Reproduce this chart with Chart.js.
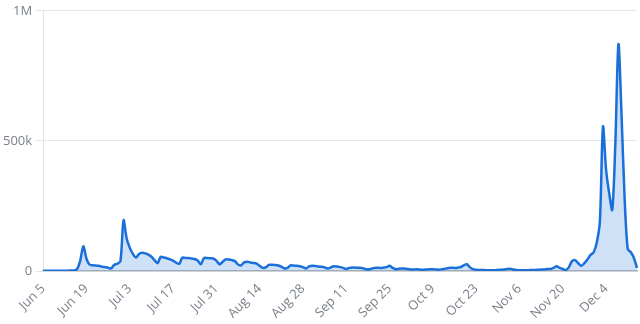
<!DOCTYPE html>
<html>
<head>
<meta charset="utf-8">
<script src="https://cdn.jsdelivr.net/npm/chart.js@4/dist/chart.umd.min.js"></script>
<style>
  html, body { margin: 0; padding: 0; background: #fff; }
  #wrap { width: 640px; height: 324px; }
</style>
</head>
<body>
<div id="wrap"><canvas id="area"></canvas></div>
<script>
// daily values, Jun 5 .. Dec 14
var startDate = [2023, 6, 5];
var values = [
  1500, 1500, 1500, 1500, 1500, 1500, 1500, 1500, 1500, 2000,
  2500, 8000, 40000, 95000, 48000, 25000, 22000, 21000, 20000, 17000,
  15000, 13000, 10000, 24000, 28000, 38000, 195000, 125000, 90000, 66000,
  52000, 65000, 70000, 68000, 63000, 55000, 42000, 30000, 54000, 52000,
  49000, 45000, 40000, 32000, 28000, 51000, 50000, 50000, 48000, 46000,
  40000, 26000, 50000, 50000, 49000, 48000, 40000, 26000, 35000, 45000,
  44000, 42000, 38000, 25000, 22000, 33000, 36000, 33000, 31000, 28000,
  20000, 12000, 14000, 24000, 24000, 23000, 21000, 17000, 10000, 12000,
  22000, 21000, 20000, 18000, 15000, 10000, 18000, 20000, 19000, 17000,
  16000, 14000, 10000, 14000, 18000, 17000, 15000, 12000, 8000, 12000,
  14000, 13000, 13000, 12000, 8000, 6000, 8000, 12000, 13000, 12000,
  13000, 15000, 20000, 12000, 7000, 9000, 10000, 9000, 8000, 6000,
  6000, 7000, 5000, 5000, 6000, 7000, 7000, 6000, 5000, 7000,
  9000, 12000, 13000, 12000, 13000, 15000, 22000, 26000, 14000, 7000,
  5000, 4000, 4000, 3000, 3000, 3000, 3000, 4000, 5000, 6000,
  8000, 9000, 6000, 4000, 3000, 3000, 3000, 3000, 4000, 4000,
  5000, 6000, 6000, 8000, 8000, 12000, 18000, 12000, 8000, 4000,
  15000, 38000, 42000, 30000, 20000, 30000, 45000, 62000, 72000, 110000,
  190000, 555000, 390000, 300000, 235000, 490000, 872000, 600000, 280000, 85000,
  72000, 50000, 12000
];
var yTicks = [0, 500000, 1000000];
var yTickLabels = ['0', '500k', '1M'];
var labelEvery = 14;

var months = ['Jan', 'Feb', 'Mar', 'Apr', 'May', 'Jun', 'Jul', 'Aug', 'Sep', 'Oct', 'Nov', 'Dec'];
var labels = [];
for (var i = 0; i < values.length; i++) {
  var d = new Date(startDate[0], startDate[1] - 1, startDate[2] + i);
  labels.push(months[d.getMonth()] + ' ' + d.getDate());
}

Chart.defaults.font.family = '"Open Sans", "Noto Sans", sans-serif';
Chart.defaults.font.size = 12;
Chart.defaults.color = '#7a808a';

var ctx = document.getElementById('area').getContext('2d');
var config = {
  type: 'line',
  data: {
    labels: labels,
    datasets: [{
      data: values,
      borderColor: '#1a6fd9',
      backgroundColor: 'rgba(26,111,217,0.21)',
      borderWidth: 2.5,
      fill: 'origin',
      pointRadius: 0,
      tension: 0.3
    }]
  },
  options: {
    responsive: true,
    maintainAspectRatio: false,
    animation: false,
    layout: { padding: { top: 4, right: 3, bottom: 0, left: 0 } },
    plugins: {
      legend: { display: false },
      tooltip: { enabled: false }
    },
    scales: {
      x: {
        grid: { display: false },
        border: { display: true, color: '#bdbdbd', width: 1.5 },
        afterFit: function(axis) {
          // last label is blank, no room needed on the right
          axis.paddingRight = 0;
        },
        ticks: {
          autoSkip: false,
          maxRotation: 45,
          minRotation: 45,
          padding: 2,
          font: { size: 13 },
          callback: function(v, i) {
            return i % labelEvery === 0 ? labels[i] : '';
          }
        }
      },
      y: {
        min: yTicks[0],
        max: yTicks[yTicks.length - 1],
        afterBuildTicks: function(axis) {
          axis.ticks = yTicks.map(function(v) { return { value: v }; });
        },
        grid: { color: '#e6e6e6', tickLength: 8 },
        border: { display: true, color: '#e3e3e3' },
        ticks: {
          padding: 3,
          font: { size: 13 },
          callback: function(v) {
            return yTickLabels[yTicks.indexOf(v)];
          }
        }
      }
    }
  }
};
var areaChart = new Chart(ctx, config);
</script>
</body>
</html>
